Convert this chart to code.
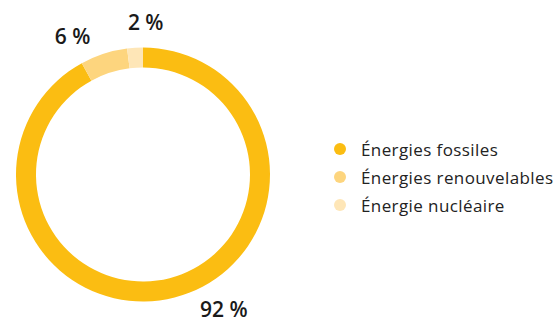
<!DOCTYPE html>
<html>
<head>
<meta charset="utf-8">
<script src="https://cdn.jsdelivr.net/npm/d3@7"></script>
<style>
  body { margin: 0; background: #fff; }
  svg text { font-family: "Open Sans", "Noto Sans", sans-serif; }
</style>
</head>
<body>
<div id="chart"></div>
<script>
// data
const categories = ["Énergies fossiles", "Énergies renouvelables", "Énergie nucléaire"];
const shares = [92, 6, 2];
const colors = ["#fbbd12", "#fdd57e", "#fee6b7"];

// label placement (degrees from top, clockwise) — hand tuned to match the original
const labelAngles = [149, -27, 1];
const labelRadii = [157, 155, 153];

let width = 560,
  height = 322;

let cx = 143,
  cy = 174.5,
  outerR = 127,
  innerR = 107;

let svg = d3
  .select("#chart")
  .append("svg")
  .attr("width", width)
  .attr("height", height);

let data = categories.map((c, i) => ({ cat: c, value: shares[i], color: colors[i] }));

let pie = d3
  .pie()
  .sort(null)
  .value(d => d.value);

let arc = d3
  .arc()
  .innerRadius(innerR)
  .outerRadius(outerR);

let donut = svg.append("g").attr("transform", `translate(${cx}, ${cy})`);

donut
  .selectAll("path")
  .data(pie(data))
  .enter()
  .append("path")
  .attr("d", arc)
  .attr("fill", d => d.data.color);

// percentage labels
donut
  .selectAll("text")
  .data(data)
  .enter()
  .append("text")
  .attr("x", (d, i) => labelRadii[i] * Math.sin((labelAngles[i] * Math.PI) / 180))
  .attr("y", (d, i) => -labelRadii[i] * Math.cos((labelAngles[i] * Math.PI) / 180))
  .attr("text-anchor", "middle")
  .attr("dominant-baseline", "central")
  .attr("font-size", "21px")
  .attr("font-weight", 600)
  .attr("fill", "#1a1a1a")
  .text(d => `${d.value} %`);

// legend
let legendY = d3
  .scalePoint()
  .domain(categories)
  .range([149, 205]);

let legend = svg
  .append("g")
  .selectAll("g")
  .data(data)
  .enter()
  .append("g")
  .attr("transform", d => `translate(340, ${legendY(d.cat)})`);

legend
  .append("circle")
  .attr("r", 6)
  .attr("fill", d => d.color);

legend
  .append("text")
  .attr("x", 21)
  .attr("dominant-baseline", "central")
  .attr("font-size", "17px")
  .attr("letter-spacing", "0.4px")
  .attr("fill", "#222")
  .text(d => d.cat);
</script>
</body>
</html>
